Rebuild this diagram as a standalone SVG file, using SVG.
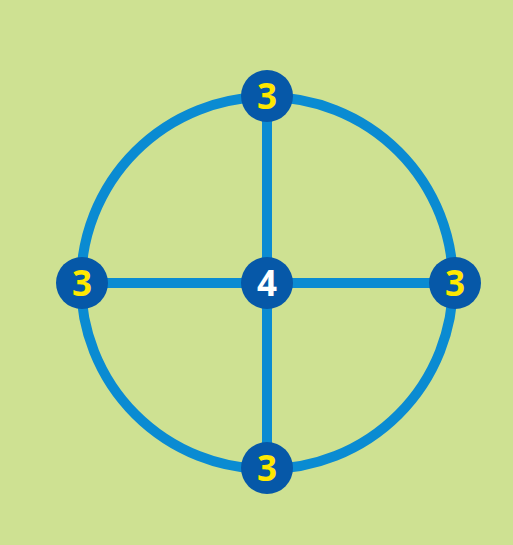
<svg xmlns="http://www.w3.org/2000/svg" width="513" height="545" viewBox="0 0 513 545">
<style>
.edge{fill:none;stroke:#0a8bd2;stroke-width:10}
.node circle{fill:#0658a8}
.node text{font-family:"Open Sans","Liberation Sans",sans-serif;font-weight:bold;font-size:35px;text-anchor:middle;fill:#ffe800}
#center text{fill:#ffffff}
</style>
<rect width="513" height="545" fill="#cee192"/>
<g id="connectors">
<circle class="edge" cx="267" cy="283" r="186"/>
<line class="edge" x1="267" y1="95" x2="267" y2="468"/>
<line class="edge" x1="82" y1="283" x2="455" y2="283"/>
</g>
<g id="top" class="node"><circle cx="267" cy="96" r="26"/><text x="267" y="108.5">3</text></g>
<g id="left" class="node"><circle cx="82" cy="283" r="26"/><text x="82" y="295.5">3</text></g>
<g id="center" class="node"><circle cx="267" cy="283" r="26"/><text x="267" y="295.5">4</text></g>
<g id="right" class="node"><circle cx="455" cy="283" r="26"/><text x="455" y="295.5">3</text></g>
<g id="bottom" class="node"><circle cx="267" cy="468" r="26"/><text x="267" y="480.5">3</text></g>
</svg>
